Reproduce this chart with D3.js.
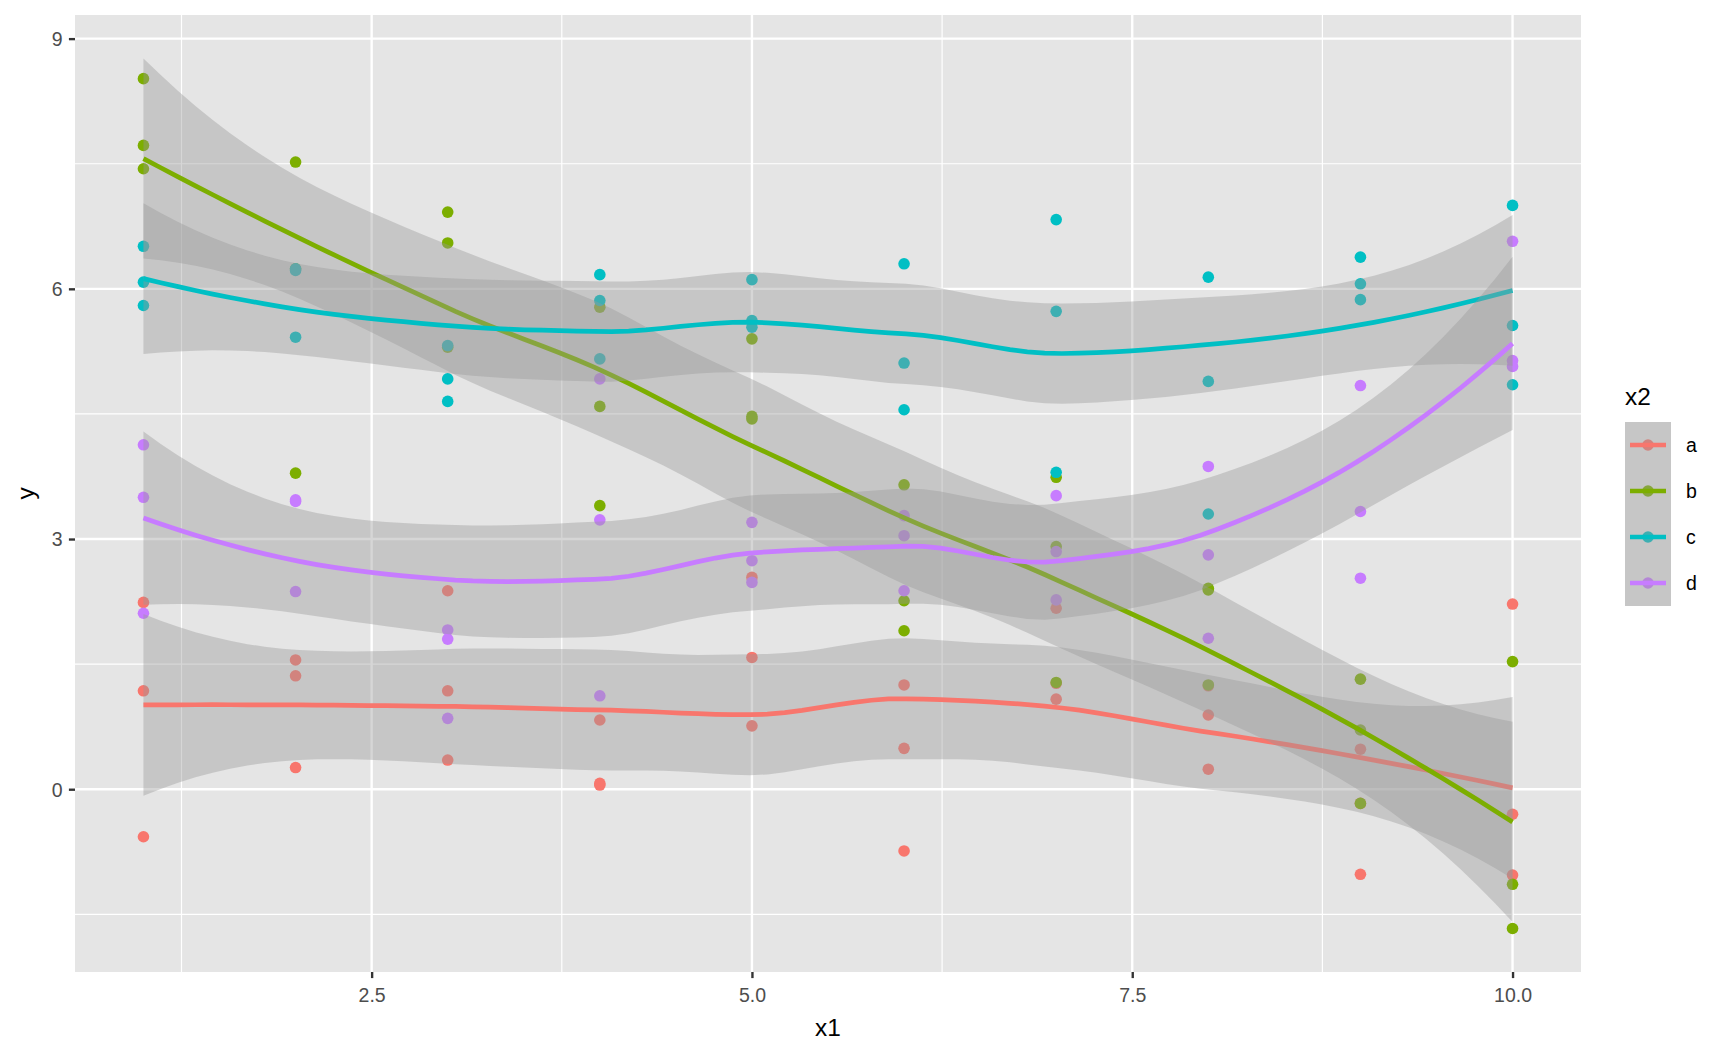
<!DOCTYPE html>
<html>
<head>
<meta charset="utf-8">
<script src="https://cdn.jsdelivr.net/npm/d3@7"></script>
<style>
  body { margin: 0; background: #fff; }
  svg { display: block; font-family: "Liberation Sans", Arial, sans-serif; }
</style>
</head>
<body>
<div id="chart"></div>
<script>
// groups of x2 and their ggplot hue colours
const groups = ["a", "b", "c", "d"];
const colours = ["#F8766D", "#7CAE00", "#00BFC4", "#C77CFF"];

// x1 for each observation of one group (3 per x value)
const x1 = [1,1,1, 2,2,2, 3,3,3, 4,4,4, 5,5,5, 6,6,6, 7,7,7, 8,8,8, 9,9,9, 10,10,10];

// y values, same order as x1
const yA = [2.24, 1.18, -0.57,  1.55, 1.36, 0.26,  2.38, 1.18, 0.35,  0.83, 0.07, 0.05,
            2.54, 1.58, 0.76,   1.25, 0.49, -0.74, 2.17, 1.27, 1.08,  1.24, 0.89, 0.24,
            0.48, -0.17, -1.02, 2.22, -0.30, -1.03];
const yB = [8.52, 7.72, 7.44,  7.52, 6.24, 3.79,  6.92, 6.55, 5.30,  5.78, 4.59, 3.40,
            5.40, 4.47, 4.44,  3.65, 2.26, 1.90,  3.74, 2.91, 1.28,  2.41, 2.39, 1.25,
            1.32, 0.71, -0.17, 1.53, -1.14, -1.67];
const yC = [6.51, 6.08, 5.80,  6.24, 6.22, 5.42,  5.32, 4.92, 4.65,  6.17, 5.86, 5.16,
            6.11, 5.62, 5.54,  6.30, 5.11, 4.55,  6.83, 5.73, 3.80,  6.14, 4.89, 3.30,
            6.38, 6.06, 5.87,  7.00, 5.56, 4.85];
const yD = [4.13, 3.50, 2.11,  3.47, 3.45, 2.37,  1.91, 1.80, 0.85,  4.92, 3.23, 1.12,
            3.20, 2.74, 2.48,  3.28, 3.04, 2.38,  3.52, 2.85, 2.27,  3.87, 2.81, 1.81,
            4.84, 3.33, 2.53,  6.57, 5.14, 5.07];
const ySeries = [yA, yB, yC, yD];

// axis breaks
const xBreaks = [2.5, 5, 7.5, 10];
const xMinor = [1.25, 3.75, 6.25, 8.75];
const yBreaks = [0, 3, 6, 9];
const yMinor = [-1.5, 1.5, 4.5, 7.5];

const width = 1728, height = 1056;
const panel = {left: 75, right: 1581, top: 15, bottom: 972};
const panelFill = "#E5E5E5";

// ---- loess (degree 2, span .75, kd-tree vertices + hermite interpolation like R) ----
function inv3(m) {
  const [a, b, c] = m[0], [d, e, f] = m[1], [g, h, k] = m[2];
  const A = e*k - f*h, B = -(d*k - f*g), C = d*h - e*g;
  const det = a*A + b*B + c*C;
  return [
    [A/det, -(b*k - c*h)/det, (b*f - c*e)/det],
    [B/det, (a*k - c*g)/det, -(a*f - c*d)/det],
    [C/det, -(a*h - b*g)/det, (a*e - b*d)/det]
  ];
}

function qt975(df) {
  const z = 1.959963985, z3 = z**3, z5 = z**5, z7 = z**7, z9 = z**9;
  const g1 = (z3 + z) / 4;
  const g2 = (5*z5 + 16*z3 + 3*z) / 96;
  const g3 = (3*z7 + 19*z5 + 17*z3 - 15*z) / 384;
  const g4 = (79*z9 + 776*z7 + 1482*z5 - 1920*z3 - 945*z) / 92160;
  return z + g1/df + g2/df**2 + g3/df**3 + g4/df**4;
}

function loessSmooth(xs, ys, span) {
  const n = xs.length, q = Math.floor(n * span), fc = Math.floor(n * span * 0.2);
  const sx = xs.slice().sort(d3.ascending);
  const lo = sx[0], hi = sx[n - 1];
  const mu = 0.005 * Math.max(hi - lo, 1e-10);
  const verts = [lo - mu, hi + mu];
  (function split(l, u, vlo, vhi) {
    if (u - l + 1 <= fc) return;
    let m = Math.floor((l + u) / 2), off = 0;
    while (m + off < u && m + off >= l) {
      if (sx[m + off] === sx[m + off + 1]) { off = -off; if (off >= 0) off += 1; }
      else { m += off; break; }
    }
    const xi = sx[m];
    if (xi === vlo || xi === vhi) return;
    verts.push(xi);
    split(l, m, vlo, xi);
    split(m + 1, u, xi, vhi);
  })(0, n - 1, verts[0], verts[1]);
  verts.sort(d3.ascending);

  // local quadratic fit at every vertex: value row and slope row of the operator
  const rows = verts.map(v => {
    const dist = xs.map(x => Math.abs(x - v));
    const rho = dist.slice().sort(d3.ascending)[q - 1];
    const w = dist.map(di => di < rho ? Math.pow(1 - Math.pow(di / rho, 3), 3) : 0);
    const X = xs.map(x => [1, x - v, (x - v) * (x - v)]);
    const A = [[0,0,0],[0,0,0],[0,0,0]];
    X.forEach((r, i) => {
      for (let a = 0; a < 3; a++) for (let b = 0; b < 3; b++) A[a][b] += w[i] * r[a] * r[b];
    });
    const Ai = inv3(A);
    const val = X.map((r, i) => w[i] * (Ai[0][0]*r[0] + Ai[0][1]*r[1] + Ai[0][2]*r[2]));
    const slope = X.map((r, i) => w[i] * (Ai[1][0]*r[0] + Ai[1][1]*r[1] + Ai[1][2]*r[2]));
    return {val, slope};
  });

  function lrow(x) {
    let k = 0;
    while (k < verts.length - 2 && x > verts[k + 1]) k++;
    const dx = verts[k + 1] - verts[k], h = (x - verts[k]) / dx;
    const p0 = (1-h)*(1-h)*(1+2*h), p1 = h*h*(3-2*h);
    const s0 = h*(1-h)*(1-h)*dx, s1 = h*h*(h-1)*dx;
    const r0 = rows[k], r1 = rows[k + 1];
    return d3.range(n).map(i => p0*r0.val[i] + p1*r1.val[i] + s0*r0.slope[i] + s1*r1.slope[i]);
  }

  const L = xs.map(lrow);
  const fitted = L.map(r => d3.sum(r, (l, i) => l * ys[i]));
  const rss = d3.sum(ys, (y, i) => (y - fitted[i]) ** 2);
  const IL = L.map((r, i) => r.map((l, j) => (i === j ? 1 : 0) - l));
  let one = 0, two = 0;
  for (let i = 0; i < n; i++) for (let j = 0; j < n; j++) one += IL[i][j] ** 2;
  for (let a = 0; a < n; a++) for (let b = 0; b < n; b++) {
    let m = 0;
    for (let i = 0; i < n; i++) m += IL[i][a] * IL[i][b];
    two += m * m;
  }
  const s = Math.sqrt(rss / one), df = one * one / two, tq = qt975(df);

  return d3.range(80).map(i => {
    const x = lo + (hi - lo) * i / 79;
    const r = lrow(x);
    const fit = d3.sum(r, (l, j) => l * ys[j]);
    const se = s * Math.sqrt(d3.sum(r, l => l * l));
    return {x, fit, ymin: fit - tq * se, ymax: fit + tq * se};
  });
}

const smooths = ySeries.map(ys => loessSmooth(x1, ys, 0.75));

// ---- scales (ggplot style 5% expansion) ----
const xExt = d3.extent(x1);
const xPad = (xExt[1] - xExt[0]) * 0.05;
const x = d3.scaleLinear().domain([xExt[0] - xPad, xExt[1] + xPad]).range([panel.left, panel.right]);

const allY = ySeries.flat()
  .concat(smooths.flatMap(sm => sm.map(d => d.ymin)))
  .concat(smooths.flatMap(sm => sm.map(d => d.ymax)));
const yExt = d3.extent(allY);
const yPad = (yExt[1] - yExt[0]) * 0.05;
const y = d3.scaleLinear().domain([yExt[0] - yPad, yExt[1] + yPad]).range([panel.bottom, panel.top]);

const svg = d3.select("#chart").append("svg")
  .attr("width", width)
  .attr("height", height);

svg.append("rect").attr("width", width).attr("height", height).attr("fill", "#fff");

// panel
svg.append("rect")
  .attr("x", panel.left).attr("y", panel.top)
  .attr("width", panel.right - panel.left).attr("height", panel.bottom - panel.top)
  .attr("fill", panelFill);

const grid = svg.append("g").attr("stroke", "#fff");
grid.selectAll(".ymin").data(yMinor).join("line")
  .attr("x1", panel.left).attr("x2", panel.right)
  .attr("y1", d => y(d)).attr("y2", d => y(d)).attr("stroke-width", 1.18);
grid.selectAll(".xmin").data(xMinor).join("line")
  .attr("y1", panel.top).attr("y2", panel.bottom)
  .attr("x1", d => x(d)).attr("x2", d => x(d)).attr("stroke-width", 1.18);
grid.selectAll(".ymaj").data(yBreaks).join("line")
  .attr("x1", panel.left).attr("x2", panel.right)
  .attr("y1", d => y(d)).attr("y2", d => y(d)).attr("stroke-width", 2.37);
grid.selectAll(".xmaj").data(xBreaks).join("line")
  .attr("y1", panel.top).attr("y2", panel.bottom)
  .attr("x1", d => x(d)).attr("x2", d => x(d)).attr("stroke-width", 2.37);

// points first, then the smooths (ribbon + line per group), as geom_point() + geom_smooth()
groups.forEach((g, gi) => {
  svg.append("g").selectAll("circle")
    .data(ySeries[gi])
    .join("circle")
    .attr("cx", (d, i) => x(x1[i]))
    .attr("cy", d => y(d))
    .attr("r", 5.8)
    .attr("fill", colours[gi]);
});

const area = d3.area().x(d => x(d.x)).y0(d => y(d.ymin)).y1(d => y(d.ymax));
const line = d3.line().x(d => x(d.x)).y(d => y(d.fit));

groups.forEach((g, gi) => {
  svg.append("path").datum(smooths[gi])
    .attr("d", area)
    .attr("fill", "#999999")
    .attr("fill-opacity", 0.4);
  svg.append("path").datum(smooths[gi])
    .attr("d", line)
    .attr("fill", "none")
    .attr("stroke", colours[gi])
    .attr("stroke-width", 4.74);
});

// axes
const xAxis = svg.append("g")
  .attr("transform", `translate(0,${panel.bottom})`)
  .call(d3.axisBottom(x).tickValues(xBreaks).tickFormat(d3.format(".1f")).tickSize(6.1).tickPadding(4.9));
const yAxis = svg.append("g")
  .attr("transform", `translate(${panel.left},0)`)
  .call(d3.axisLeft(y).tickValues(yBreaks).tickFormat(d3.format("d")).tickSize(6.1).tickPadding(4.9));

[xAxis, yAxis].forEach(ax => {
  ax.select(".domain").remove();
  ax.selectAll(".tick line").attr("stroke", "#333333").attr("stroke-width", 2.37);
  ax.selectAll(".tick text")
    .attr("fill", "#4D4D4D")
    .style("font-size", "19.5px")
    .style("font-family", "'Liberation Sans', Arial, sans-serif");
});
xAxis.selectAll(".tick text").attr("dy", null).attr("y", 29.5);
yAxis.selectAll(".tick text").attr("dy", "0.35em").attr("x", -12.5);

svg.append("text")
  .attr("x", (panel.left + panel.right) / 2)
  .attr("y", 1036)
  .attr("text-anchor", "middle")
  .style("font-size", "24.4px")
  .text("x1");

svg.append("text")
  .attr("transform", `translate(34,${(panel.top + panel.bottom) / 2}) rotate(-90)`)
  .attr("text-anchor", "middle")
  .style("font-size", "24.4px")
  .text("y");

// legend
const legend = svg.append("g").attr("transform", "translate(1625,0)");
legend.append("text").attr("x", 0).attr("y", 405).style("font-size", "24.4px").text("x2");

const keyH = 46;
const keys = legend.selectAll(".key").data(groups).join("g")
  .attr("transform", (d, i) => `translate(0,${422 + i * keyH})`);
keys.append("rect").attr("width", keyH).attr("height", keyH).attr("fill", panelFill);
keys.append("circle").attr("cx", keyH / 2).attr("cy", keyH / 2).attr("r", 5.8)
  .attr("fill", (d, i) => colours[i]);
keys.append("rect").attr("width", keyH).attr("height", keyH)
  .attr("fill", "#999999").attr("fill-opacity", 0.4);
keys.append("line")
  .attr("x1", 5).attr("x2", keyH - 5)
  .attr("y1", keyH / 2).attr("y2", keyH / 2)
  .attr("stroke", (d, i) => colours[i])
  .attr("stroke-width", 4.74);
keys.append("text")
  .attr("x", 61).attr("y", keyH / 2).attr("dy", "0.35em")
  .style("font-size", "19.5px")
  .text(d => d);
</script>
</body>
</html>
